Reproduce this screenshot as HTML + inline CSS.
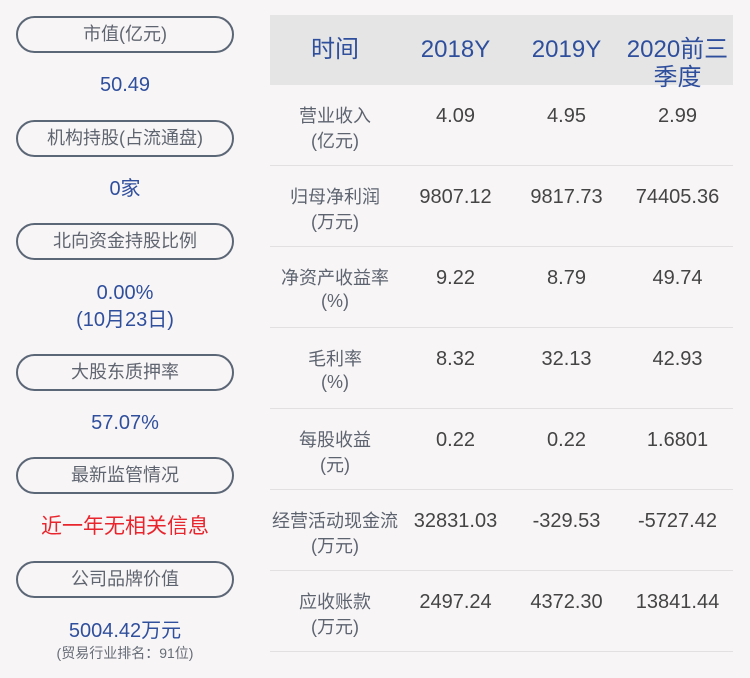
<!DOCTYPE html>
<html>
<head>
<meta charset="utf-8">
<style>
  html, body { margin:0; padding:0; }
  body {
    width:750px; height:678px; background:#f8f5f6; position:relative; overflow:hidden;
    font-family:"Liberation Sans","Noto Sans CJK SC",sans-serif;
  }
  .pill {
    position:absolute; left:16px; width:218px; height:37px; box-sizing:border-box;
    border:2px solid #5b6676; border-radius:19px; text-align:center;
    font-size:18px; line-height:33px; color:#5f6570;
  }
  .val {
    position:absolute; left:0; width:250px; text-align:center;
    font-size:20px; line-height:26px; color:#2f4f9d; height:26px;
  }
  .hdr { position:absolute; left:270px; top:15px; width:463px; height:70px; background:#e5e5e5; }
  .h { position:absolute; text-align:center; font-size:24px; line-height:28px; color:#2f4f9d; }
  .line { position:absolute; left:270px; width:463px; height:1px; background:#e3e0e1; }
  .lab { position:absolute; left:265px; width:140px; text-align:center; font-size:18px; line-height:25px; color:#5d6470; }
  .d { position:absolute; width:111px; text-align:center; font-size:20px; line-height:25px; color:#444; }
</style>
</head>
<body>
  <div class="pill" style="top:16px;">市值(亿元)</div>
  <div class="val" style="top:72px;">50.49</div>

  <div class="pill" style="top:120px;">机构持股(占流通盘)</div>
  <div class="val" style="top:176px;">0家</div>

  <div class="pill" style="top:223px;">北向资金持股比例</div>
  <div class="val" style="top:280px;">0.00%</div>
  <div class="val" style="top:307px;">(10月23日)</div>

  <div class="pill" style="top:354px;">大股东质押率</div>
  <div class="val" style="top:410px;">57.07%</div>

  <div class="pill" style="top:457px;">最新监管情况</div>
  <div class="val" style="top:513px;font-size:21px;line-height:28px;color:#e8242c;">近一年无相关信息</div>

  <div class="pill" style="top:561px;">公司品牌价值</div>
  <div class="val" style="top:618px;">5004.42万元</div>
  <div class="val" style="top:644px;font-size:14px;line-height:18px;color:#666d78;">(贸易行业排名：91位)</div>

  <div class="hdr"></div>
  <div class="h" style="left:270px;width:130px;top:36px;">时间</div>
  <div class="h" style="left:400px;width:111px;top:36px;">2018Y</div>
  <div class="h" style="left:511px;width:111px;top:36px;">2019Y</div>
  <div class="h" style="left:617px;width:121px;top:36px;">2020前三</div>
  <div class="h" style="left:617px;width:121px;top:64px;">季度</div>

  <!-- row 1 -->
  <div class="lab" style="top:104px;">营业收入</div>
  <div class="lab" style="top:129px;">(亿元)</div>
  <div class="d" style="left:400px;top:104px;">4.09</div>
  <div class="d" style="left:511px;top:104px;">4.95</div>
  <div class="d" style="left:622px;top:104px;">2.99</div>
  <div class="line" style="top:165px;"></div>

  <!-- row 2 -->
  <div class="lab" style="top:185px;">归母净利润</div>
  <div class="lab" style="top:210px;">(万元)</div>
  <div class="d" style="left:400px;top:185px;">9807.12</div>
  <div class="d" style="left:511px;top:185px;">9817.73</div>
  <div class="d" style="left:622px;top:185px;">74405.36</div>
  <div class="line" style="top:246px;"></div>

  <!-- row 3 -->
  <div class="lab" style="top:266px;">净资产收益率</div>
  <div class="lab" style="top:289px;">(%)</div>
  <div class="d" style="left:400px;top:266px;">9.22</div>
  <div class="d" style="left:511px;top:266px;">8.79</div>
  <div class="d" style="left:622px;top:266px;">49.74</div>
  <div class="line" style="top:327px;"></div>

  <!-- row 4 -->
  <div class="lab" style="top:347px;">毛利率</div>
  <div class="lab" style="top:370px;">(%)</div>
  <div class="d" style="left:400px;top:347px;">8.32</div>
  <div class="d" style="left:511px;top:347px;">32.13</div>
  <div class="d" style="left:622px;top:347px;">42.93</div>
  <div class="line" style="top:408px;"></div>

  <!-- row 5 -->
  <div class="lab" style="top:428px;">每股收益</div>
  <div class="lab" style="top:453px;">(元)</div>
  <div class="d" style="left:400px;top:428px;">0.22</div>
  <div class="d" style="left:511px;top:428px;">0.22</div>
  <div class="d" style="left:622px;top:428px;">1.6801</div>
  <div class="line" style="top:489px;"></div>

  <!-- row 6 -->
  <div class="lab" style="top:509px;">经营活动现金流</div>
  <div class="lab" style="top:534px;">(万元)</div>
  <div class="d" style="left:400px;top:509px;">32831.03</div>
  <div class="d" style="left:511px;top:509px;">-329.53</div>
  <div class="d" style="left:622px;top:509px;">-5727.42</div>
  <div class="line" style="top:570px;"></div>

  <!-- row 7 -->
  <div class="lab" style="top:590px;">应收账款</div>
  <div class="lab" style="top:615px;">(万元)</div>
  <div class="d" style="left:400px;top:590px;">2497.24</div>
  <div class="d" style="left:511px;top:590px;">4372.30</div>
  <div class="d" style="left:622px;top:590px;">13841.44</div>
  <div class="line" style="top:651px;"></div>
</body>
</html>
